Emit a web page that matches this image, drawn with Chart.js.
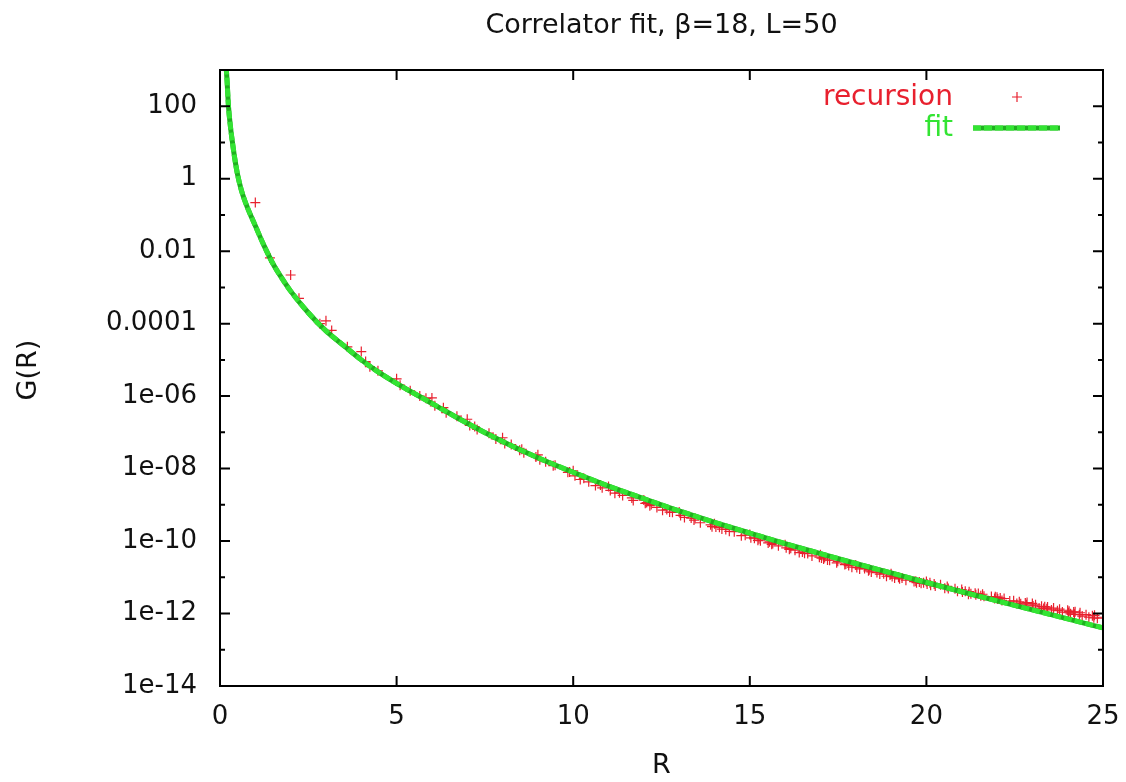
<!DOCTYPE html>
<html lang="en">
<head>
<meta charset="UTF-8">
<title>Correlator fit</title>
<script src="https://cdn.jsdelivr.net/npm/chart.js"></script>
<style>
  body { margin: 0; background: #fff; }
  #chart { display: block; }
</style>
</head>
<body>
<canvas id="chart" width="1126" height="782"></canvas>
<script>
// recursion data: lattice distances R and correlator G(R)
const recR = [
  1, 1.414, 2, 2.236, 2.828, 3, 3.162, 3.606, 4, 4.123, 4.243, 4.472, 5, 5.099, 5.385, 5.657, 5.831, 6, 6.083, 6.325,
  6.403, 6.708, 7, 7.071, 7.211, 7.28, 7.616, 7.81, 8, 8.062, 8.246, 8.485, 8.544, 8.602, 8.944, 9, 9.055, 9.22, 9.434, 9.487,
  9.849, 9.899, 10, 10.05, 10.2, 10.3, 10.44, 10.63, 10.77, 10.82, 11, 11.05, 11.18, 11.31, 11.4, 11.66, 11.7, 12, 12.04, 12.08,
  12.17, 12.21, 12.37, 12.53, 12.65, 12.73, 12.81, 13, 13.04, 13.15, 13.34, 13.42, 13.45, 13.6, 13.89, 13.93, 14, 14.04, 14.14, 14.21,
  14.32, 14.42, 14.56, 14.76, 14.87, 15, 15.03, 15.13, 15.23, 15.26, 15.3, 15.52, 15.56, 15.62, 15.65, 15.81, 16, 16.03, 16.12, 16.16,
  16.28, 16.4, 16.49, 16.55, 16.64, 16.76, 16.97, 17, 17.03, 17.09, 17.12, 17.2, 17.26, 17.46, 17.49, 17.69, 17.72, 17.8, 17.89, 18,
  18.03, 18.11, 18.25, 18.36, 18.38, 18.44, 18.6, 18.68, 18.79, 18.87, 18.97, 19, 19.03, 19.1, 19.21, 19.24, 19.31, 19.42, 19.65, 19.7,
  19.72, 19.8, 19.85, 19.92, 20, 20.02, 20.1, 20.12, 20.22, 20.25, 20.4, 20.52, 20.59, 20.62, 20.81, 20.88, 21, 21.02, 21.1, 21.19,
  21.21, 21.26, 21.38, 21.4, 21.47, 21.54, 21.59, 21.63, 21.84, 21.93, 21.95, 22, 22.02, 22.09, 22.14, 22.2, 22.36, 22.47, 22.56, 22.63,
  22.67, 22.8, 22.83, 22.85, 23, 23.02, 23.09, 23.19, 23.26, 23.32, 23.35, 23.41, 23.43, 23.54, 23.6, 23.71, 23.77, 23.85, 24, 24.02,
  24.04, 24.08, 24.17, 24.19, 24.21, 24.33, 24.35, 24.41, 24.52, 24.6, 24.7, 24.74, 24.76, 24.84, 25
];
const recG = [
  0.22, 6.5e-3, 2.2e-3, 5.0e-4, 1.0e-4, 1.2e-4, 6.5e-5, 2.3e-5, 1.7e-5, 9.0e-6, 6.5e-6, 5.0e-6, 3.0e-6, 2.0e-6, 1.4e-6, 1.0e-6, 8.7e-7, 8.9e-7, 5.4e-7, 4.8e-7,
  3.5e-7, 2.8e-7, 2.3e-7, 1.55e-7, 1.45e-7, 1.2e-7, 9.5e-8, 6.6e-8, 7.1e-8, 4.9e-8, 4.6e-8, 3.2e-8, 3.4e-8, 2.75e-8, 2.1e-8, 2.4e-8, 1.74e-8, 1.55e-8, 1.2e-8, 1.23e-8,
  7.9e-9, 8.1e-9, 8.7e-9, 6.3e-9, 5.0e-9, 5.4e-9, 4.3e-9, 3.4e-9, 3.5e-9, 2.95e-9, 3.2e-9, 2.5e-9, 2.1e-9, 2.14e-9, 1.82e-9, 1.55e-9, 1.32e-9, 1.35e-9, 1.1e-9, 1.15e-9,
  9.5e-10, 1.02e-9, 8.5e-10, 7.1e-10, 7.4e-10, 6.3e-10, 6.2e-10, 6.3e-10, 5.1e-10, 4.5e-10, 4.3e-10, 3.8e-10, 4.2e-10, 3.2e-10, 2.8e-10, 2.5e-10, 3.0e-10, 2.45e-10, 2.4e-10, 2.14e-10,
  2.1e-10, 1.86e-10, 1.82e-10, 1.41e-10, 1.45e-10, 1.51e-10, 1.23e-10, 1.2e-10, 1.05e-10, 1.15e-10, 1.02e-10, 8.9e-11, 9.5e-11, 8.1e-11, 8.5e-11, 7.4e-11, 7.9e-11, 6.5e-11, 5.9e-11, 6.3e-11,
  5.6e-11, 4.8e-11, 5.0e-11, 4.6e-11, 4.5e-11, 3.9e-11, 3.6e-11, 4.2e-11, 3.4e-11, 3.2e-11, 3.5e-11, 3.0e-11, 2.95e-11, 2.5e-11, 2.75e-11, 2.24e-11, 2.34e-11, 2.1e-11, 1.9e-11, 2.2e-11,
  1.86e-11, 1.7e-11, 1.74e-11, 1.51e-11, 1.62e-11, 1.41e-11, 1.35e-11, 1.23e-11, 1.26e-11, 1.07e-11, 1.15e-11, 1.26e-11, 1.05e-11, 9.5e-12, 1.0e-11, 9.1e-12, 9.5e-12, 8.3e-12, 7.6e-12, 7.8e-12,
  7.1e-12, 7.4e-12, 6.8e-12, 7.1e-12, 7.6e-12, 6.5e-12, 7.1e-12, 6.0e-12, 6.5e-12, 5.75e-12, 6.2e-12, 5.0e-12, 5.6e-12, 4.9e-12, 4.8e-12, 4.1e-12, 4.6e-12, 3.9e-12, 4.1e-12, 3.4e-12,
  4.0e-12, 3.5e-12, 3.6e-12, 3.3e-12, 3.55e-12, 3.1e-12, 3.4e-12, 3.0e-12, 2.95e-12, 2.6e-12, 2.9e-12, 2.8e-12, 2.5e-12, 2.7e-12, 2.3e-12, 2.6e-12, 2.2e-12, 2.24e-12, 1.9e-12, 2.1e-12,
  1.86e-12, 1.95e-12, 1.74e-12, 2.0e-12, 1.9e-12, 1.62e-12, 1.74e-12, 1.41e-12, 1.58e-12, 1.38e-12, 1.55e-12, 1.35e-12, 1.51e-12, 1.26e-12, 1.41e-12, 1.2e-12, 1.32e-12, 1.1e-12, 1.23e-12, 1.05e-12,
  1.15e-12, 9.8e-13, 1.1e-12, 9.5e-13, 1.12e-12, 9.3e-13, 1.05e-12, 8.5e-13, 9.3e-13, 7.9e-13, 8.7e-13, 7.6e-13, 8.9e-13, 7.4e-13, 7.9e-13
];

// fit curve
const fitR = [0.12, 0.16, 0.2, 0.24, 0.3, 0.36, 0.42, 0.5, 0.6, 0.7, 0.8, 0.9, 1, 1.25, 1.5, 1.75, 2, 2.5, 3, 3.5,
  4, 4.5, 5, 6, 7, 8, 9, 10, 11, 12, 13, 14, 15, 16, 17, 18, 19, 20, 21, 22, 23, 24, 25];
const fitG = [1e4, 2e3, 5e2, 1e2, 25, 8.9, 3.5, 1.26, 0.5, 0.25, 0.14, 0.083, 0.05, 0.014, 4.5e-3, 1.8e-3, 7.9e-4, 2.0e-4, 6.3e-5, 2.5e-5,
  1e-5, 4.5e-6, 2.24e-6, 6.3e-7, 1.78e-7, 5.6e-8, 2.0e-8, 7.9e-9, 3.3e-9, 1.48e-9, 6.8e-10, 3.3e-10, 1.66e-10, 8.5e-11, 4.5e-11, 2.4e-11, 1.32e-11, 7.2e-12, 4.0e-12, 2.24e-12,
  1.26e-12, 7.1e-13, 4.0e-13];

const xTicks = [0, 5, 10, 15, 20, 25];
const yTicks = [1e-14, 1e-12, 1e-10, 1e-8, 1e-6, 1e-4, 1e-2, 1, 1e2];
const yTickLabels = ['1e-14', '1e-12', '1e-10', '1e-08', '1e-06', '0.0001', '0.01', '1', '100'];
const yMinor = [1e-13, 1e-11, 1e-9, 1e-7, 1e-5, 1e-3, 1e-1, 1e1];

const FONT = '"DejaVu Sans", sans-serif';
const RED = '#e8202e';
const GREEN = '#33e433';
const DARKGREEN = '#1fb01f';

// border, inward ticks, titles and key, gnuplot style
const framePlugin = {
  id: 'frame',
  afterDraw(chart) {
    const ctx = chart.ctx;
    const a = chart.chartArea;
    const xs = chart.scales.x, ys = chart.scales.y;
    ctx.save();
    ctx.strokeStyle = '#000';
    ctx.lineWidth = 2;
    ctx.strokeRect(a.left, a.top, a.right - a.left, a.bottom - a.top);
    ctx.beginPath();
    xTicks.forEach(v => {
      const px = xs.getPixelForValue(v);
      ctx.moveTo(px, a.bottom); ctx.lineTo(px, a.bottom - 10);
      ctx.moveTo(px, a.top); ctx.lineTo(px, a.top + 10);
    });
    yTicks.forEach(v => {
      const py = ys.getPixelForValue(v);
      ctx.moveTo(a.left, py); ctx.lineTo(a.left + 10, py);
      ctx.moveTo(a.right, py); ctx.lineTo(a.right - 10, py);
    });
    yMinor.forEach(v => {
      const py = ys.getPixelForValue(v);
      ctx.moveTo(a.left, py); ctx.lineTo(a.left + 5, py);
      ctx.moveTo(a.right, py); ctx.lineTo(a.right - 5, py);
    });
    ctx.stroke();

    ctx.fillStyle = '#111';
    ctx.textAlign = 'center';
    ctx.textBaseline = 'middle';
    ctx.font = '27px ' + FONT;
    ctx.fillText('Correlator fit, β=18, L=50', (a.left + a.right) / 2, 26);
    ctx.fillText('R', (a.left + a.right) / 2, 766);
    ctx.save();
    ctx.translate(29, 370);
    ctx.rotate(-Math.PI / 2);
    ctx.fillText('G(R)', 0, 0);
    ctx.restore();

    // key
    ctx.font = '28px ' + FONT;
    ctx.textAlign = 'right';
    ctx.fillStyle = RED;
    ctx.fillText('recursion', 953, 98);
    ctx.fillStyle = GREEN;
    ctx.fillText('fit', 953, 129);
    ctx.strokeStyle = RED;
    ctx.lineWidth = 1.2;
    ctx.beginPath();
    ctx.moveTo(1012, 97); ctx.lineTo(1022, 97);
    ctx.moveTo(1017, 92); ctx.lineTo(1017, 102);
    ctx.stroke();
    ctx.lineWidth = 5;
    ctx.strokeStyle = DARKGREEN;
    ctx.beginPath();
    ctx.moveTo(973, 128); ctx.lineTo(1060, 128);
    ctx.stroke();
    ctx.strokeStyle = GREEN;
    ctx.setLineDash([8, 3]);
    ctx.beginPath();
    ctx.moveTo(973, 128); ctx.lineTo(1060, 128);
    ctx.stroke();
    ctx.restore();
  }
};

const fitPoints = fitR.map((r, i) => ({ x: r, y: fitG[i] }));

new Chart(document.getElementById('chart'), {
  type: 'scatter',
  data: {
    datasets: [
      {
        type: 'line',
        label: 'fit',
        data: fitPoints,
        borderColor: GREEN,
        borderWidth: 5,
        borderDash: [8, 3],
        pointRadius: 0,
        fill: false,
        cubicInterpolationMode: 'monotone',
        order: 0
      },
      {
        type: 'line',
        label: 'fit base',
        data: fitPoints,
        borderColor: DARKGREEN,
        borderWidth: 5,
        pointRadius: 0,
        fill: false,
        cubicInterpolationMode: 'monotone',
        order: 1
      },
      {
        label: 'recursion',
        data: recR.map((r, i) => ({ x: r, y: recG[i] })),
        pointStyle: 'cross',
        pointRadius: 5,
        borderColor: RED,
        borderWidth: 1.2,
        showLine: false,
        order: 2
      }
    ]
  },
  options: {
    responsive: false,
    animation: false,
    devicePixelRatio: 1,
    layout: { padding: { top: 70, right: 23, left: 0, bottom: 0 } },
    plugins: { legend: { display: false }, tooltip: { enabled: false } },
    scales: {
      x: {
        type: 'linear', min: 0, max: 25,
        afterBuildTicks: s => { s.ticks = xTicks.map(v => ({ value: v })); },
        afterFit: s => { s.height = 96; s.paddingLeft = 0; s.paddingRight = 0; },
        grid: { display: false, drawTicks: false },
        border: { display: false },
        ticks: { autoSkip: false, maxRotation: 0, padding: 16, color: '#111', font: { family: FONT, size: 26 } }
      },
      y: {
        type: 'logarithmic', min: 1e-14, max: 1e3,
        afterBuildTicks: s => { s.ticks = yTicks.map(v => ({ value: v })); },
        afterFit: s => { s.width = 220; s.paddingTop = 0; s.paddingBottom = 0; },
        grid: { display: false, drawTicks: false },
        border: { display: false },
        ticks: {
          autoSkip: false, padding: 23, color: '#111', font: { family: FONT, size: 26 },
          callback: (v, i) => yTickLabels[i]
        }
      }
    }
  },
  plugins: [framePlugin]
});
</script>
</body>
</html>
